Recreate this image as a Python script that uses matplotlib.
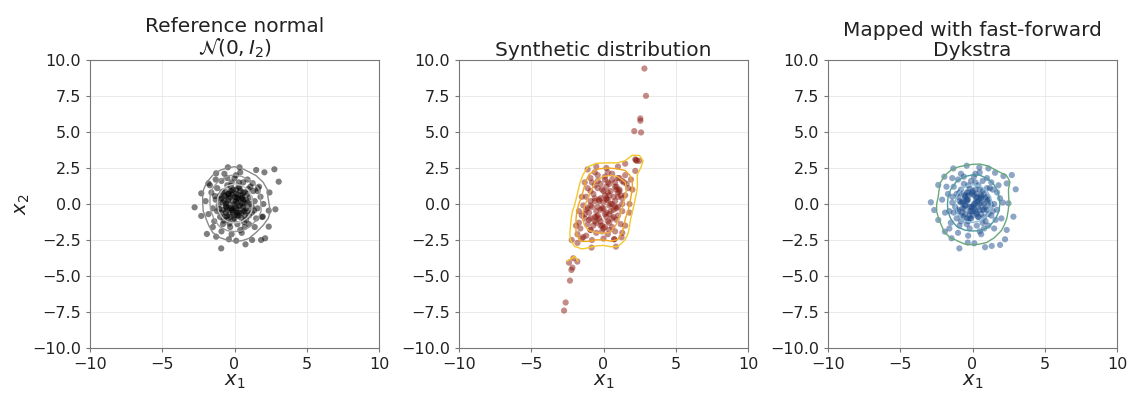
import matplotlib
matplotlib.use('Agg')
import matplotlib.pyplot as plt
import numpy as np

# ---- panel 1: reference normal sample (outer points + dense core) ----
ref_x = [2.76, 3.06, 2.07, 1.50, 0.35, -0.46, 2.42, 2.83, 2.37, 2.37, 2.12, 1.84, 1.22, 0.76, 0.12,
         -0.39, -0.92, -1.27, -1.91, -2.30, -2.76, -2.30, -1.80, -1.27, 1.96, 1.61,
         0.1, -0.3, 0.6, -0.8, 0.9, -0.5, 1.2, -1.3, 0.3, -0.1, 0.5, -0.7, 1.4, -1.0, 0.2, -0.2, 0.8, -1.5, 1.1, -0.4,
         0.0, 0.4, -0.9, 0.7, -0.6, 1.6, -1.2, 0.1, -0.3, 1.0, -0.1, 0.6, -1.6, 1.3, -0.8, 0.3, -0.5, 0.9, -1.1, 0.2,
         -0.2, 0.5, -0.7, 1.8, -1.4, 0.0, 0.4, -1.8, 1.5, -0.9, 0.8, -0.4, 0.2, -0.6, 1.1, -1.0, 0.0, 0.6, -0.3, 1.2,
         -1.2, 0.3, -0.5, 0.9, 1.7, -1.7, 1.9, -1.5, 0.5, -0.2, 0.7, -0.9, 1.4, 2.0, -2.0, 1.6, -1.3, 0.1, -0.7, 0.4,
         0.15, -0.45, 0.35, -0.15, 0.75, -0.85, 1.05, -1.05, 0.25, -0.25, 0.55, -0.55, 0.95, -0.35, 1.35, -1.35,
         0.05, 0.65, -0.75, 1.25,
         0.0, 0.3, -0.3, 0.6, -0.6, 0.2, -0.2, 0.5, -0.5, 0.8, -0.8, 0.1, -0.1, 0.4, -0.4, 0.7, -0.7, 0.9, -0.9, 0.0,
         0.3, -0.3, 0.6, -0.6, 1.0, -1.0, 0.2, -0.2, 0.45, -0.45, 0.1, -0.1, 0.7, -0.7, 0.35, -0.35, 0.55, -0.55,
         0.15, -0.15]
ref_y = [2.41, 1.55, 2.20, 2.36, 2.55, 2.55, 0.80, -0.37, -0.46, -1.57, -2.38, -2.50, -2.50, -2.80, -2.55,
         -2.45, -3.08, -2.27, -2.08, -0.83, -0.23, 0.74, 1.43, 2.13, -0.88, 1.09,
         0.2, 0.5, -0.2, -0.4, 0.7, -1.1, -0.6, 0.3, 1.2, -0.6, 0.4, 0.9, 0.2, -0.9, -1.4, 1.5, -1.1, -0.3, 1.2, 0.0,
         -0.2, 0.9, 0.4, 0.1, -0.6, -0.3, 1.1, 0.7, -1.6, -1.4, 1.0, 1.5, 0.8, 0.9, -1.4, -0.8, 1.3, -0.5, -0.1, 0.1,
         -0.3, -0.6, 0.2, 0.5, -1.2, 1.8, -1.8, -0.7, -1.0, 1.6, 0.3, 0.7, -0.4, -0.2, 0.0, 0.6, -1.0, 0.8, -0.9, -0.2,
         -0.5, 1.5, 1.8, 1.7, 1.2, 1.3, -0.9, -1.6, -2.0, -2.1, -1.6, -1.9, -1.6, 0.0, 0.2, 0.9, 1.7, 2.0, 2.1, 2.2,
         0.45, 0.25, -0.15, -0.45, -0.85, 0.85, 0.45, -0.35, 0.65, 1.25, 0.05, -0.85, 1.05, -1.35, -0.45, 0.55,
         -0.75, -1.25, -1.15, 1.45,
         0.0, 0.3, -0.3, -0.5, 0.6, -0.8, 0.9, 0.6, -0.4, -0.3, 0.1, 1.0, -1.1, -0.1, 0.4, 0.8, -0.9, 0.1, -0.6, 0.5,
         -0.6, 0.9, 0.3, 0.0, -0.8, 0.3, 0.4, -0.4, -0.95, 0.7, -0.3, 0.2, -0.5, 0.55, 1.1, -0.75, 0.45, -0.2,
         -0.6, 0.65]

# ---- panel 2: synthetic distribution (tails + edge + sheared core) ----
syn_x = [2.83, 2.94, 2.55, 2.55, 2.13, 2.60, 2.25, 2.48, -2.73, -2.62, -2.32, -2.22, -2.15, -2.39, -2.09, -1.81,
         -0.83, 0.86, 0.74, 1.25,
         -2.2, -1.8, -1.5, -0.8, 0.0, 0.75, -1.9, -1.7, -1.5, -1.3, -1.1, -0.5, 0.2, 1.0, 1.5, 2.3, 2.2, 2.2, 2.0,
         1.8, 1.8, 1.5, 1.3,
         -1.8, -1.2, -0.5, 0.3, 0.8, -1.6, -0.9, 0.0, 0.6, -1.4, -1.7, -1.1, -0.6, -0.1, 0.4, 0.9, 1.2, -1.3, -0.3, 0.6,
         -1.5, -1.0, -0.5, 0.1, 0.5, 1.0, 1.3, -1.2, -0.2, 0.7, -1.4, -0.9, -0.4, 0.0, 0.4, 0.8, 1.3, -1.1, 0.2, 1.0,
         -1.2, -0.7, -0.2, 0.3, 0.7, 1.1, 1.5, -0.9, 0.1, 1.3, -1.1, -0.6, -0.1, 0.4, 0.9, 1.4, 1.7, -0.8, 0.2, 1.1,
         -0.9, -0.4, 0.1, 0.6, 1.0, 1.5, 1.9, -0.6, 0.3, 1.3,
         -0.5, 0.0, 0.3, -0.3, 0.6, -0.8, 0.5, -0.2, 0.9, -0.6, 0.2, -1.0, 0.8, -0.4, 1.2, -0.7, 0.1, 0.4, -1.3, 1.6,
         -0.9, -0.2, 0.3, -0.6, 0.2, -0.1, 0.5, -0.3, 0.4, 0.0, 0.8, 0.3, 1.1, 0.1, -0.9, 0.7, -0.6, 1.0, -0.2, -0.5,
         0.4, -0.9, 1.0, -0.4, 0.6, -0.1, -0.4, 0.2, 0.9, 0.8]
syn_y = [9.41, 7.51, 5.94, 5.78, 5.06, 4.97, 3.05, 3.00, -7.40, -6.84, -5.32, -4.58, -4.42, -4.07, -3.77, -4.00,
         -3.03, -2.96, -2.45, -2.31,
         -2.5, -2.7, -2.4, -2.5, -2.4, -2.45, -1.5, -0.5, 0.5, 1.5, 2.4, 2.6, 2.5, 2.6, 2.8, 3.0, 3.1, 2.3, 1.0,
         0.0, -0.6, -1.5, -2.0,
         -2.1, -2.2, -2.0, -2.1, -1.9, -1.7, -1.8, -1.7, -1.6, -2.3, -1.3, -1.4, -1.2, -1.5, -1.3, -1.1, -1.4, -1.0, -1.0, -1.0,
         -0.8, -0.6, -0.9, -0.7, -0.5, -0.8, -0.5, -0.4, -0.4, -0.9, -0.1, 0.2, -0.2, 0.1, -0.1, 0.2, 0.0, -0.3, 0.3, -0.2,
         0.5, 0.7, 0.4, 0.8, 0.5, 0.9, 0.6, 0.9, 0.6, 0.4, 1.1, 1.3, 1.0, 1.4, 1.2, 1.5, 1.1, 1.5, 1.2, 1.0,
         1.8, 2.0, 1.7, 2.1, 1.8, 2.0, 1.7, 2.2, 2.2, 1.6,
         -0.5, -0.3, 0.3, 0.2, 0.0, -0.2, 0.9, -1.2, -0.3, 0.4, -0.9, -1.1, 1.5, 1.6, 0.6, -1.5, 1.9, -1.8, -0.7, 1.4,
         -1.8, -1.5, -1.2, -0.9, -0.6, -0.3, 0.0, 0.3, 0.6, 0.9, 1.2, 1.5, 1.8, -1.6, -1.0, -0.4, 0.2, 0.8, 1.4, -1.3,
         -0.7, -0.1, 0.5, 1.1, 1.7, -1.9, -0.8, 0.4, 1.0, -0.2]

# ---- panel 3: mapped with fast-forward Dykstra ----
map_x = [-2.88, -2.37, -1.95, -1.33, -0.40, 0.47, 1.10, 1.56, 2.14, 2.72, 2.99, 2.37, 2.49, 2.83, 2.37, 2.25,
         1.91, 1.33, 0.87, 0.13, -0.33, -0.91, -1.45, -1.91, -2.37, -2.65,
         0.2, -0.4, 0.5, -0.7, 1.0, -0.3, 1.3, -1.4, 0.4, 0.0, 0.6, -0.8, 1.5, -1.1, 0.3, -0.1, 0.9, -1.6, 1.2, -0.5,
         0.1, 0.5, -1.0, 0.8, -0.5, 1.7, -1.3, 0.0, -0.2, 1.1, -0.2, 0.7, -1.7, 1.4, -0.9, 0.4, -0.6, 1.0, -1.2, 0.3,
         -0.1, 0.6, -0.8, 1.9, -1.5, 0.1, 0.5, -1.9, 1.6, -1.0, 0.9, -0.3, 0.1, -0.7, 1.2, -1.1, -0.1, 0.7, -0.4, 1.3,
         -1.3, 0.2, -0.6, 1.0, 1.8, -1.8, 2.0, -1.6, 0.6, -0.3, 0.8, -1.0, 1.5, 2.1, -2.1, 1.7, -1.4, 0.2, -0.8, 0.5,
         0.25, -0.4, 0.4, -0.2, 0.8, -0.9, 1.1, -1.0, 0.3, -0.3, 0.6, -0.6, 1.0, -0.4, 1.4, -1.4, 0.0, 0.7, -0.8, 1.3,
         0.1, 0.4, -0.2, 0.7, -0.5, 0.3, -0.3, 0.6, -0.6, 0.9, -0.7, 0.0, -0.2, 0.5, -0.4, 0.8, -0.8, 1.0, -1.0, 0.1,
         0.2, -0.4, 0.5, -0.7, 1.1, -0.9, 0.3, -0.1, 0.4, -0.5, 0.0, -0.3, 0.8, -0.6, 0.2, -0.2, 0.6, -0.5,
         0.25, -0.05]
map_y = [0.12, 1.32, 1.90, 2.47, 2.66, 2.54, 2.47, 2.17, 1.94, 2.01, 1.02, 1.43, 0.05, -0.88, -1.80, -2.45,
         -2.84, -2.91, -3.00, -2.73, -2.68, -3.08, -2.38, -1.92, -1.11, -0.42,
         0.1, 0.3, -0.4, -0.6, 0.5, -1.2, -0.8, 0.1, 1.3, -0.5, 0.6, 1.0, 0.0, -1.0, -1.5, 1.6, -1.2, -0.5, 1.1, -0.1,
         -0.1, 1.0, 0.5, 0.0, -0.7, -0.4, 1.2, 0.8, -1.7, -1.5, 1.1, 1.6, 0.7, 1.0, -1.5, -0.9, 1.4, -0.4, -0.2, 0.2,
         -0.2, -0.7, 0.1, 0.4, -1.3, 1.9, -1.9, -0.6, -1.1, 1.7, 0.4, 0.6, -0.3, -0.3, 0.1, 0.7, -1.0, 0.9, -1.0, -0.1,
         -0.6, 1.5, 1.9, 1.8, 1.3, 1.2, -1.0, -1.7, -2.1, -2.2, -1.7, -2.0, -1.7, 0.1, 0.3, 0.8, 1.8, 2.1, 2.1, 2.2,
         0.4, 0.15, -0.2, -0.5, -0.9, 0.8, 0.3, -0.4, 0.7, 1.3, 0.1, -0.9, 1.1, -1.4, -0.5, 0.5, -0.8, -1.3, -1.2, 1.5,
         0.0, 0.2, -0.2, -0.4, 0.5, -0.7, 0.8, 0.5, -0.3, -0.2, 0.2, 0.9, -1.0, 0.0, 0.3, 0.7, -0.8, 0.2, -0.5, 0.6,
         -0.5, 0.8, 0.4, 0.1, -0.7, 0.2, 0.5, -0.5, -0.9, 0.6, -0.2, 0.3, -0.4, 0.6, 1.0, -0.8, 0.4, -0.1,
         -0.6, 0.7]

titles = ['Reference normal\n$\\mathcal{N}(0, I_2)$', 'Synthetic distribution',
          'Mapped with fast-forward\nDykstra']
point_colors = ['black', '#8b1a10', '#1f4e8c']
contour_colors = [['#8a8a8a', '#9c9c9c', '#c4c4c4'],
                  ['#f5c82a', '#f2a51f', '#f0b040'],
                  ['#6aa87a', '#4f9aa0', '#8cc0d8']]


def density(x, y, grid, h):
    gx, gy = np.meshgrid(grid, grid)
    px = np.asarray(x)[:, None, None]
    py = np.asarray(y)[:, None, None]
    d = np.exp(-((gx - px) ** 2 + (gy - py) ** 2) / (2 * h * h)).sum(axis=0)
    return gx, gy, d / d.max()


fig = plt.figure(figsize=(11.38, 3.97), dpi=100)
lefts = [90, 459, 828]
data = [(ref_x, ref_y), (syn_x, syn_y), (map_x, map_y)]
levels = [[0.12, 0.25, 0.5], [0.16, 0.3, 0.55], [0.1, 0.25, 0.5]]

for i in range(3):
    ax = fig.add_axes([lefts[i] / 1138, 49 / 397, 289 / 1138, 288 / 397])
    x, y = data[i]
    ax.scatter(x, y, s=20, color=point_colors[i], alpha=0.5, edgecolors='none', zorder=2)
    grid = np.linspace(-4, 4, 17)
    gx, gy, d = density(x, y, grid, 0.5)
    ax.contour(gx, gy, d, levels=levels[i], colors=contour_colors[i], linewidths=1.0, zorder=3)
    ax.set_xlim(-10, 10)
    ax.set_ylim(-10, 10)
    ax.set_xticks([-10, -5, 0, 5, 10])
    ax.grid(True, color='#e6e6e6', linewidth=0.6)
    ax.set_axisbelow(True)
    for s in ax.spines.values():
        s.set_color('#777777')
    ax.tick_params(labelsize=11.5, length=3, colors='#777777', labelcolor='#222222')
    ax.set_title(titles[i], fontsize=14.5, color='#222222', pad=3, linespacing=1.05)
    ax.set_xlabel('$x_1$', fontsize=14, color='#222222', labelpad=0)
    if i == 0:
        ax.set_ylabel('$x_2$', fontsize=14, color='#222222', labelpad=0)

fig.savefig('out.png', dpi=100)
